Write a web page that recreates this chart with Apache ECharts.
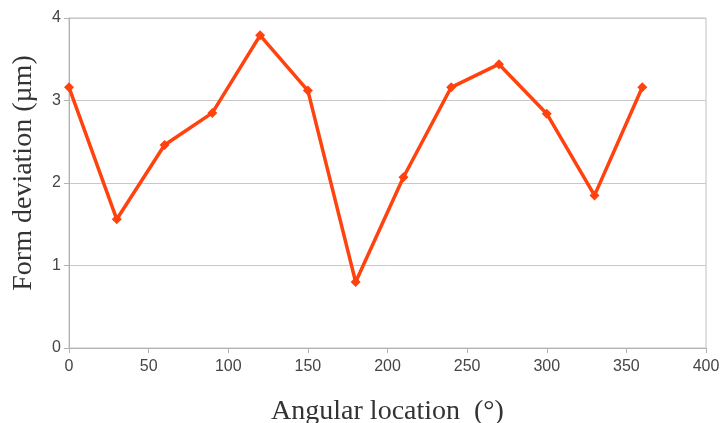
<!DOCTYPE html>
<html>
<head>
<meta charset="utf-8">
<script src="https://cdn.jsdelivr.net/npm/echarts@6/dist/echarts.min.js"></script>
<style>html,body{margin:0;padding:0;background:#fff;}#c{width:721px;height:423px;}</style>
</head>
<body>
<div id="c"></div>
<script>
const angles = [0, 30, 60, 90, 120, 150, 180, 210, 240, 270, 300, 330, 360];
const deviation = [3.16, 1.56, 2.46, 2.85, 3.79, 3.12, 0.80, 2.07, 3.16, 3.44, 2.84, 1.85, 3.16];
const xTitle = 'Angular location  (°)';
const yTitle = 'Form deviation (µm)';

const chart = echarts.init(document.getElementById('c'), null, {renderer: 'canvas'});
const axisLabelStyle = {color: '#454545', fontFamily: 'Liberation Sans', fontSize: 16};
const titleStyle = {color: '#333333', fontFamily: 'Liberation Serif', fontSize: 28};
chart.setOption({
  animation: false,
  backgroundColor: '#ffffff',
  grid: {left: 69, right: 15, top: 18, bottom: 75, show: true, borderColor: '#c0c0c0', borderWidth: 1,
         outerBoundsMode: 'none', containLabel: false},
  xAxis: {
    type: 'value', min: 0, max: 400, interval: 50,
    name: xTitle, nameLocation: 'middle', nameGap: 50, nameTextStyle: titleStyle,
    axisLine: {show: true, lineStyle: {color: '#b3b3b3'}},
    axisTick: {show: true, length: 5, lineStyle: {color: '#b3b3b3'}},
    axisLabel: Object.assign({margin: 11}, axisLabelStyle),
    splitLine: {show: false}
  },
  yAxis: {
    type: 'value', min: 0, max: 4, interval: 1,
    name: yTitle, nameLocation: 'middle', nameGap: 31,
    nameTextStyle: Object.assign({padding: [0, 0, 0, 20]}, titleStyle),
    axisLine: {show: true, lineStyle: {color: '#b3b3b3'}},
    axisTick: {show: true, length: 5, lineStyle: {color: '#b3b3b3'}},
    axisLabel: Object.assign({margin: 8}, axisLabelStyle),
    splitLine: {show: true, lineStyle: {color: '#c8c8c8', width: 1}}
  },
  series: [{
    type: 'line',
    data: angles.map((a, i) => [a, deviation[i]]),
    symbol: 'diamond', symbolSize: 10, showAllSymbol: true,
    lineStyle: {color: '#ff420e', width: 3.5},
    itemStyle: {color: '#ff420e'}
  }]
});
</script>
</body>
</html>
